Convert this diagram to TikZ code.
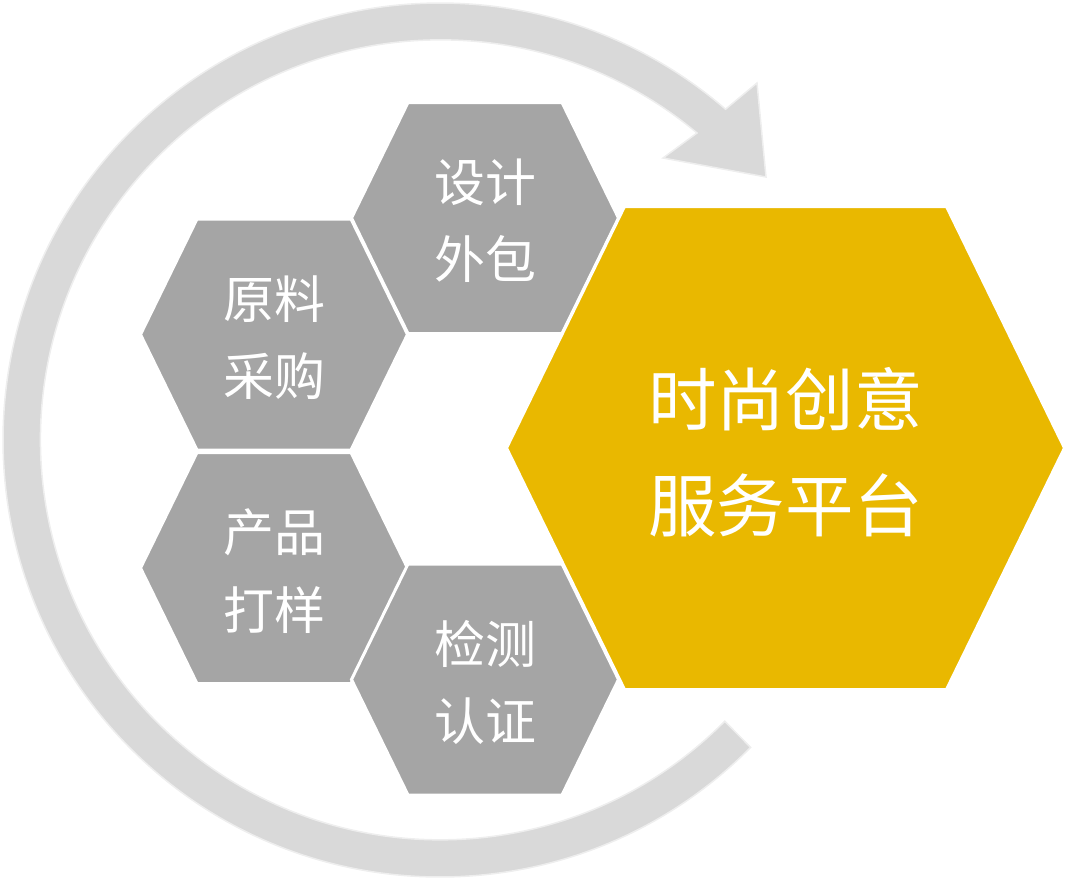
\documentclass[tikz,border=0pt]{standalone}
\usepackage{fontspec}
\setmainfont{Noto Sans CJK SC}
\definecolor{HexGray}{RGB}{165,165,165}
\definecolor{HexGold}{RGB}{233,184,0}
\definecolor{RingGray}{RGB}{217,217,217}
\definecolor{RingEdge}{RGB}{238,238,238}

\begin{document}
\begin{tikzpicture}[yscale=-1,x=0.02cm,y=0.02cm,
    cell/.style={fill=HexGray,draw=white,line width=0.06cm},
    cell text/.style={text=white,align=center,
            font=\fontsize{29}{44}\selectfont},
    core/.style={fill=HexGold,draw=white,line width=0.06cm},
    core text/.style={text=white,align=center,
            font=\fontsize{39}{60}\selectfont}]
    \useasboundingbox (0,0) rectangle (1071,879);
    % ring with arrow head
    \coordinate (hub) at (440,440);
    \filldraw[fill=RingGray,draw=RingEdge,line width=0.03cm]
       ([shift={(44.7:437)}]hub) arc[start angle=44.7,end angle=310.8,radius=437]
       -- (757,83) -- (766,177) -- (663,158) -- (697,133)
       arc[start angle=309.9,end angle=44.7,radius=400] -- cycle;
    % small cells
    \foreach \cx/\cy/\nm/\txt in
       {485/218/design/{设计\\外包},274/334.5/material/{原料\\采购},
        274/568/sample/{产品\\打样},485/679.5/testing/{检测\\认证}}{
       \draw[cell] (\cx-133.5,\cy) -- (\cx-77,\cy-115.5) -- (\cx+77,\cy-115.5)
          -- (\cx+133.5,\cy) -- (\cx+77,\cy+115.5) -- (\cx-77,\cy+115.5) -- cycle;
       \node[cell text] (\nm) at (\cx,\cy+3) {\txt};
    }
    % big cell
    \draw[core] (506.5,448) -- (624.5,206.5) -- (946.5,206.5) -- (1064.5,448)
       -- (946.5,689.5) -- (624.5,689.5) -- cycle;
    \node[core text] (platform) at (785.5,452) {时尚创意\\服务平台};
\end{tikzpicture}
\end{document}
